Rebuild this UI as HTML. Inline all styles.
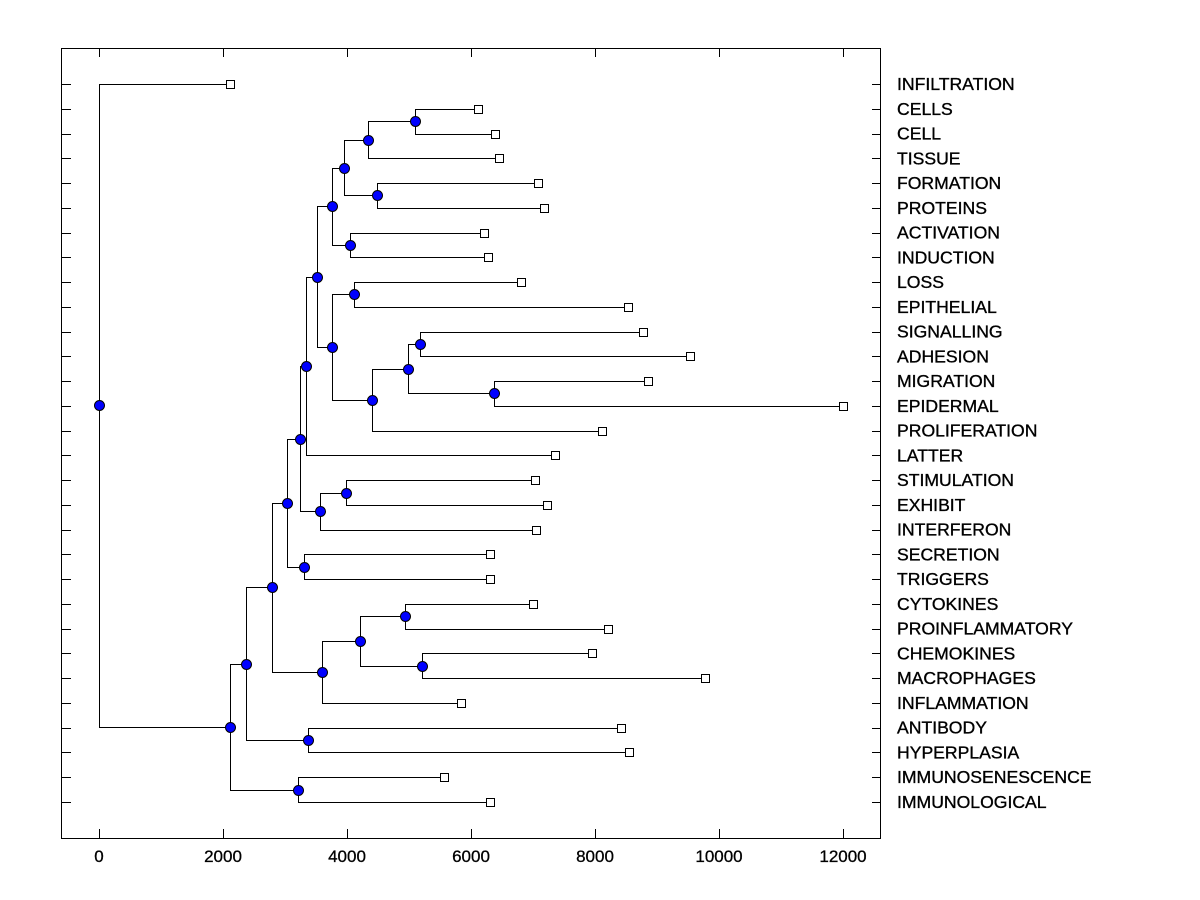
<!DOCTYPE html>
<html><head><meta charset="utf-8"><style>
body{margin:0;background:#fff;}
svg{display:block;font-family:"Liberation Sans",Arial,sans-serif;}
</style></head><body>
<svg id="chart" width="1200" height="900" xmlns="http://www.w3.org/2000/svg">
<rect x="61.5" y="48.5" width="819" height="790" fill="none" stroke="#000" stroke-width="1"/>
</svg>
<script>
const leafNames = ["INFILTRATION","CELLS","CELL","TISSUE","FORMATION","PROTEINS","ACTIVATION","INDUCTION","LOSS","EPITHELIAL","SIGNALLING","ADHESION","MIGRATION","EPIDERMAL","PROLIFERATION","LATTER","STIMULATION","EXHIBIT","INTERFERON","SECRETION","TRIGGERS","CYTOKINES","PROINFLAMMATORY","CHEMOKINES","MACROPHAGES","INFLAMMATION","ANTIBODY","HYPERPLASIA","IMMUNOSENESCENCE","IMMUNOLOGICAL"];
const leafHeights = [2113,6113,6387,6452,7081,7177,6210,6274,6806,8532,8774,9532,8855,12000,8113,7355,7032,7226,7048,6306,6306,7000,8210,7952,9774,5839,8419,8548,5565,6306];
const merges = [
 [1,2,5097],
 ["n0",3,4339],
 [4,5,4484],
 ["n1","n2",3952],
 [6,7,4048],
 ["n3","n4",3758],
 [8,9,4113],
 [10,11,5177],
 [12,13,6371],
 ["n7","n8",4984],
 ["n9",14,4403],
 ["n6","n10",3758],
 ["n5","n11",3516],
 ["n12",15,3339],
 [16,17,3984],
 ["n14",18,3565],
 ["n13","n15",3242],
 [19,20,3306],
 ["n16","n17",3032],
 [21,22,4935],
 [23,24,5210],
 ["n19","n20",4210],
 ["n21",25,3597],
 ["n18","n22",2790],
 [26,27,3371],
 ["n23","n24",2371],
 [28,29,3210],
 ["n25","n26",2113],
 [0,"n27",0]
];
const xTicks = [0,2000,4000,6000,8000,10000,12000];

const NS="http://www.w3.org/2000/svg";
const svg=document.getElementById('chart');
const X=v=>99+v*0.062;
const Y=i=>84+i*(802-84)/(leafNames.length-1);
function mk(t,a){const e=document.createElementNS(NS,t);for(const k in a)e.setAttribute(k,a[k]);svg.appendChild(e);return e;}

leafNames.forEach((n,i)=>{
 const yy=Math.round(Y(i))+.5;
 const t=mk('line',{x1:62,x2:71,y1:yy,y2:yy,stroke:'#000'});
 
 
 const t2=mk('line',{x1:872,x2:881,y1:yy,y2:yy,stroke:'#000'});
 
 
 const l=mk('text',{x:897,y:Y(i)+6,'font-size':17.6,stroke:'#000','stroke-width':0.35});
 l.textContent=n;
 
 
});
xTicks.forEach(v=>{
 const xx=Math.round(X(v))+.5;
 const t=mk('line',{x1:xx,x2:xx,y1:829,y2:838,stroke:'#000'});
 
 
 const t2=mk('line',{x1:xx,x2:xx,y1:49,y2:57,stroke:'#000'});
 
 
 const l=mk('text',{x:X(v),y:862,'font-size':17,'text-anchor':'middle',stroke:'#000','stroke-width':0.3});
 l.textContent=String(v);
 
 
});

const nodes=[];
function pos(c){if(typeof c==='number')return {x:X(leafHeights[c]),y:Y(c)};return nodes[+c.slice(1)];}
merges.forEach(m=>{const a=pos(m[0]),b=pos(m[1]);nodes.push({x:X(m[2]),y:(a.y+b.y)/2});});
merges.forEach((m,k)=>{
 const n=nodes[k];
 [m[0],m[1]].forEach(c=>{
  const p=pos(c);
  const path=mk('path',{d:`M${Math.round(n.x)+.5},${Math.round(n.y)+.5}V${Math.round(p.y)+.5}H${Math.round(p.x)+.5}`,fill:'none',stroke:'#000','stroke-width':1});
  
  
 });
});
leafNames.forEach((n,i)=>{
 const r=mk('rect',{x:Math.round(X(leafHeights[i]))-3.5,y:Math.round(Y(i))-3.5,width:8,height:8,fill:'#fff',stroke:'#000'});
 
 
});
nodes.forEach(n=>{
 const c=mk('circle',{cx:Math.round(n.x)+.5,cy:Math.round(n.y)+.5,r:5,fill:'#0000ff',stroke:'#000','stroke-width':1});
 
 
});
</script>
</body></html>
